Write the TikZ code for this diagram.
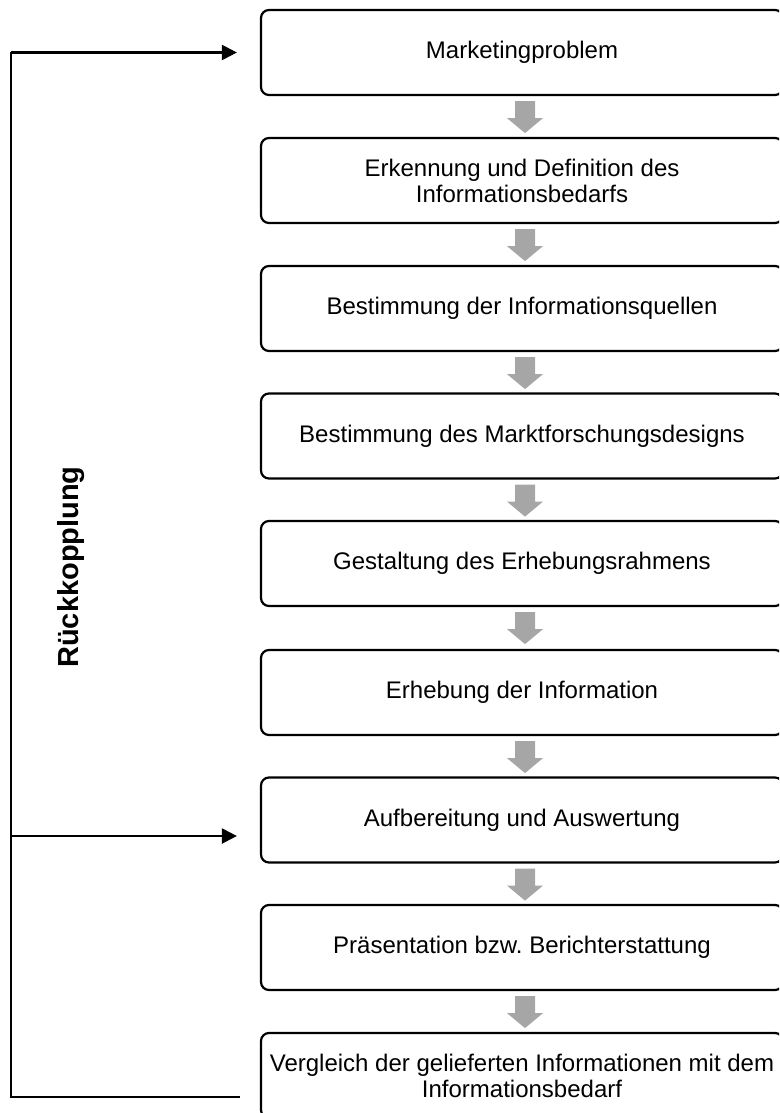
\documentclass[tikz,border=0pt]{standalone}
\usepackage{fontspec}
\setmainfont{Liberation Sans}
\usetikzlibrary{calc,arrows.meta}
\definecolor{flowgray}{HTML}{A6A6A6}
\frenchspacing
\tikzset{
  stepbox/.style={draw=black, line width=2.2pt, rounded corners=8pt,
    minimum width=522pt, minimum height=85pt, align=center,
    font=\fontsize{24}{26}\selectfont, inner sep=0pt},
  feedback/.style={draw=black, line width=2.2pt},
  feedarrow/.style={feedback, -{Triangle[length=15pt,width=15pt]}},
}
\newcommand{\flowarrow}[1]{%
  \fill[flowgray, shift={($(#1.south)+(3,-5)$)}]
    (-10,0) -- (10,0) -- (10,-17) -- (18,-17) -- (0,-32) -- (-18,-17) -- (-10,-17) -- cycle;}
\begin{document}
\begin{tikzpicture}[x=1pt,y=1pt]
\useasboundingbox (0,0) rectangle (779,-1113);
\clip (0,0) rectangle (779,-1113);

% process steps
\node[stepbox] (b1) at (522,-52.5)  {Marketingproblem};
\node[stepbox] (b2) at (522,-180.5) {Erkennung und Definition des\\Informationsbedarfs};
\node[stepbox] (b3) at (522,-308.5) {Bestimmung der Informationsquellen};
\node[stepbox] (b4) at (522,-436)   {Bestimmung des Marktforschungsdesigns};
\node[stepbox] (b5) at (522,-563.5) {Gestaltung des Erhebungsrahmens};
\node[stepbox] (b6) at (522,-692.5) {Erhebung der Information};
\node[stepbox] (b7) at (522,-820)   {Aufbereitung und Auswertung};
\node[stepbox] (b8) at (522,-947.5) {Präsentation bzw. Berichterstattung};
\node[stepbox] (b9) at (522,-1075.5) {Vergleich der gelieferten Informationen mit dem\\Informationsbedarf};

% gray block arrows between the steps
\foreach \b in {b1,b2,b3,b4,b5,b6,b7,b8} {\flowarrow{\b}}

% feedback loop
\coordinate (fbtop) at (11,-52.5);
\coordinate (fbmid) at (11,-836);
\coordinate (fbbot) at (11,-1097);
\coordinate (fbend) at (240,-1097);
\coordinate (tiptop) at ($(b1.west)+(-23,0)$);
\coordinate (tipmid) at ($(b7.west)+(-23,-16)$);

\draw[feedback] (fbend) -- (fbbot) -- (fbtop);
\draw[feedarrow] (fbtop) -- (tiptop);
\draw[feedarrow] (fbmid) -- (tipmid);

\node[rotate=90, font=\fontsize{29}{32}\selectfont\bfseries] (label) at (71,-567) {Rückkopplung};
\end{tikzpicture}
\end{document}
